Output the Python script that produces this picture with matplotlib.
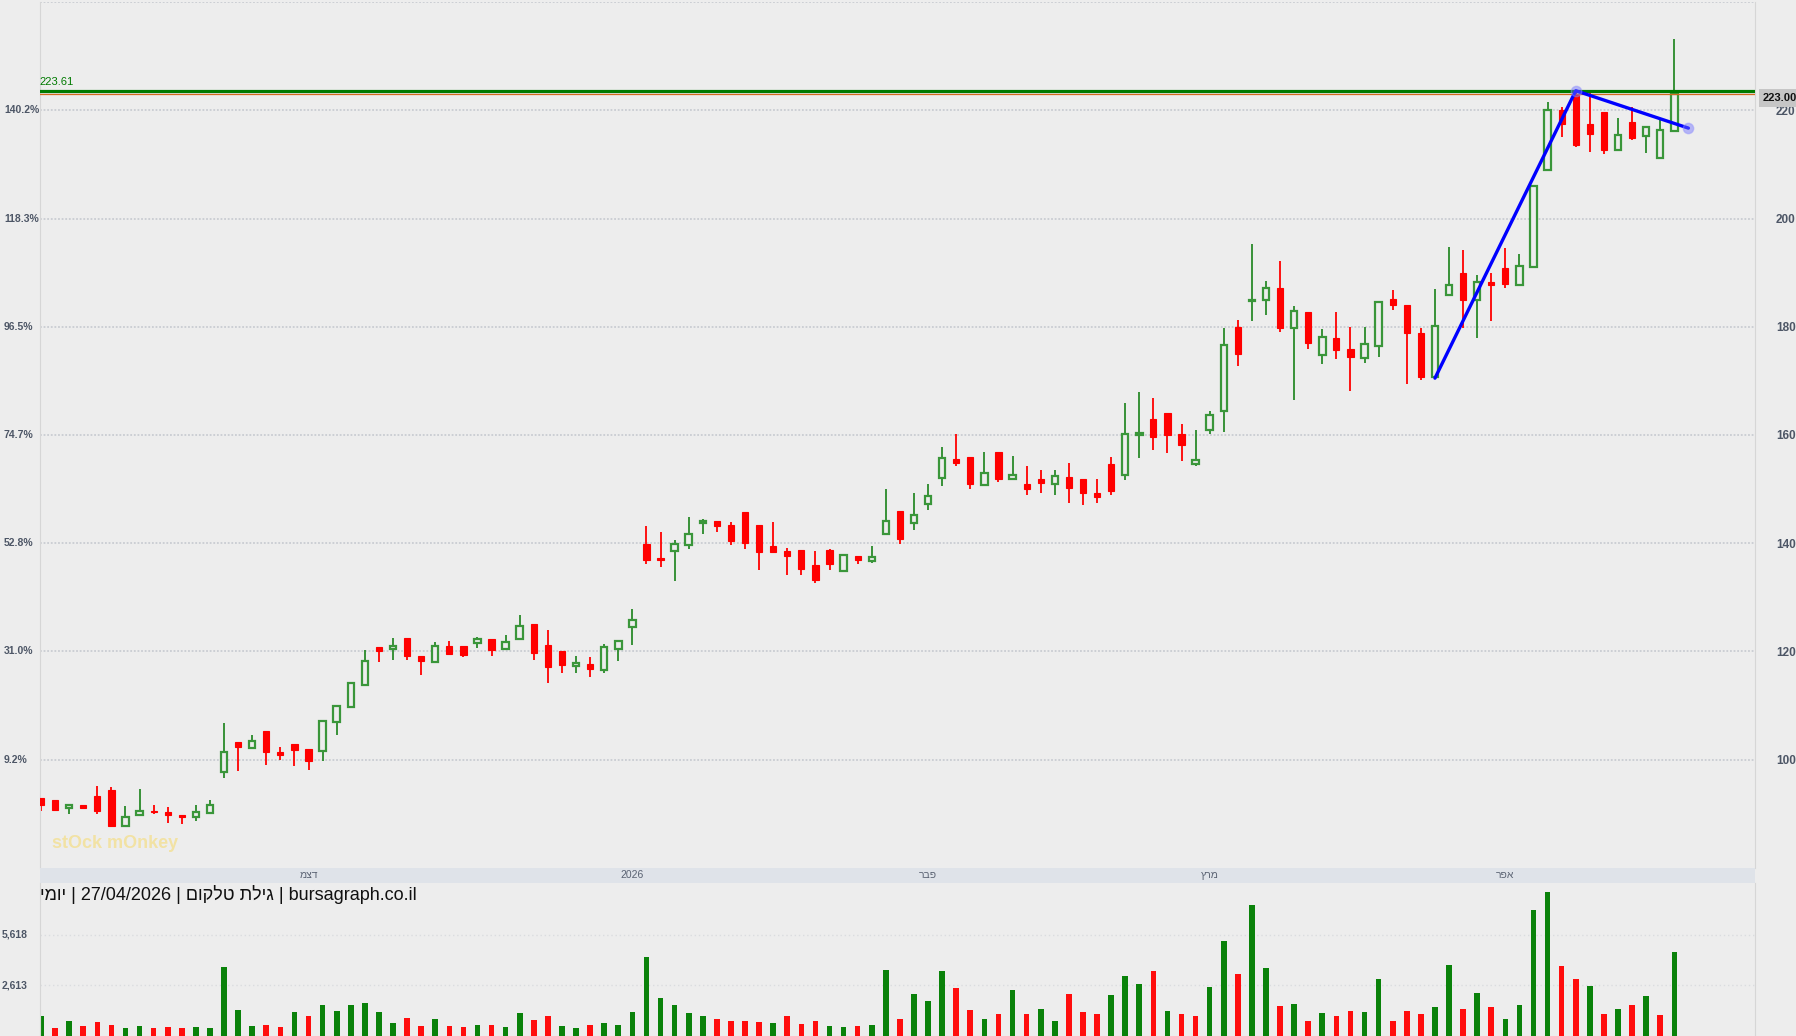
import matplotlib
matplotlib.use('Agg')
import matplotlib.pyplot as plt
import matplotlib.transforms as mtransforms
import numpy as np

# daily candles (oldest -> newest)
opens = [93.0, 92.6, 91.1, 91.7, 93.35, 94.46, 87.8, 89.8, 90.6, 90.4,
         89.8, 89.5, 90.2, 97.8, 103.3, 102.2, 105.4, 101.5, 103.0, 102.0,
         101.7, 106.9, 109.8, 113.9, 120.8, 120.45, 122.5, 119.2, 118.1, 121.0,
         121.0, 121.6, 122.3, 120.45, 122.4, 125.1, 121.25, 120.0, 117.3, 117.7,
         116.6, 120.5, 124.6, 139.9, 137.34, 138.64, 139.75, 143.75, 144.1, 143.3,
         145.85, 143.4, 139.4, 138.6, 138.8, 136.05, 138.8, 134.8, 137.7, 136.8,
         141.8, 146.0, 143.8, 147.3, 152.1, 155.6, 156.0, 150.8, 156.9, 151.9,
         151.0, 151.9, 151.0, 152.3, 151.9, 149.35, 154.7, 152.7, 159.95, 163.0,
         164.0, 160.1, 154.7, 161.0, 164.5, 179.9, 184.7, 184.9, 187.1, 179.7,
         182.8, 174.8, 178.0, 175.8, 174.3, 176.5, 185.2, 184.1, 178.9, 170.7,
         185.8, 190.0, 184.85, 188.2, 190.9, 187.8, 191.0, 208.9, 220.0, 223.0,
         217.5, 219.7, 212.6, 217.9, 215.2, 211.1, 216.1]
highs = [93.0, 92.6, 91.8, 91.7, 95.2, 94.95, 91.5, 94.6, 91.7, 91.2,
         89.8, 91.7, 92.6, 106.7, 103.3, 104.6, 105.4, 102.4, 103.0, 102.0,
         107.4, 110.0, 114.1, 120.3, 120.8, 122.5, 122.5, 119.2, 121.75, 121.9,
         121.0, 122.7, 122.3, 123.1, 126.8, 125.1, 124.0, 120.0, 119.2, 119.0,
         121.4, 121.9, 127.9, 143.1, 142.0, 140.6, 144.9, 144.5, 144.1, 143.9,
         145.85, 143.4, 144.0, 139.1, 138.8, 138.6, 138.9, 137.8, 137.7, 139.4,
         150.1, 146.0, 149.2, 151.0, 157.7, 160.1, 156.0, 156.9, 156.9, 156.2,
         154.3, 153.6, 153.6, 154.9, 151.9, 151.9, 156.0, 166.0, 168.0, 166.9,
         164.0, 162.1, 160.9, 164.45, 179.7, 181.3, 195.2, 188.5, 192.2, 183.9,
         182.8, 179.5, 182.8, 180.0, 180.0, 184.6, 186.7, 184.1, 179.7, 186.9,
         194.8, 194.1, 189.5, 189.9, 194.6, 193.35, 206.0, 221.6, 220.6, 223.61,
         223.5, 219.7, 218.5, 220.6, 216.9, 218.5, 233.1]
lows = [90.5, 90.6, 90.0, 90.9, 90.0, 87.5, 87.8, 89.8, 90.0, 88.4,
        88.2, 88.6, 90.2, 96.7, 98.0, 102.2, 99.1, 100.0, 98.9, 98.15,
        99.7, 104.5, 109.8, 113.9, 118.0, 118.4, 118.4, 115.6, 118.1, 119.3,
        118.9, 120.6, 119.1, 120.3, 122.4, 118.5, 114.1, 115.95, 115.95, 115.2,
        115.95, 118.2, 121.25, 136.1, 135.56, 133.0, 138.9, 141.8, 142.0, 139.75,
        139.0, 135.1, 138.3, 134.1, 134.1, 132.6, 135.06, 134.8, 136.1, 136.4,
        141.8, 139.9, 142.5, 146.1, 150.5, 154.2, 150.0, 150.8, 151.3, 151.9,
        149.0, 149.2, 149.0, 147.5, 147.0, 147.5, 149.0, 151.6, 155.7, 157.2,
        156.6, 155.15, 154.3, 160.2, 160.5, 172.7, 181.0, 182.1, 179.05, 166.4,
        175.9, 173.1, 174.0, 168.1, 173.3, 174.4, 183.1, 169.4, 170.1, 170.5,
        185.8, 179.7, 177.9, 181.0, 187.2, 187.8, 191.0, 208.9, 215.1, 213.25,
        212.3, 212.0, 212.6, 214.5, 212.1, 211.1, 216.1]
closes = [91.6, 90.8, 91.7, 91.0, 90.45, 87.8, 89.4, 90.6, 90.3, 89.7,
          89.5, 90.4, 91.7, 101.4, 102.3, 103.4, 101.4, 100.8, 101.85, 99.8,
          107.1, 110.0, 114.1, 118.2, 120.1, 120.95, 119.1, 118.2, 121.07, 119.6,
          119.3, 122.4, 120.3, 121.7, 124.8, 119.8, 117.06, 117.43, 117.8, 116.8,
          120.8, 121.9, 125.9, 136.85, 136.9, 139.9, 141.7, 144.2, 143.2, 140.4,
          140.0, 138.4, 138.45, 137.6, 135.2, 133.3, 136.1, 137.8, 136.85, 137.4,
          144.06, 140.7, 145.2, 148.7, 155.7, 154.8, 150.9, 152.9, 151.9, 152.7,
          150.0, 151.1, 152.4, 150.15, 149.2, 148.5, 149.6, 160.1, 160.4, 159.6,
          159.95, 158.1, 155.3, 163.65, 176.6, 174.9, 185.0, 187.1, 179.7, 182.9,
          177.0, 178.1, 175.7, 174.4, 176.8, 184.6, 184.0, 178.8, 170.7, 180.1,
          187.7, 184.9, 188.2, 187.7, 187.9, 191.2, 206.0, 220.0, 217.4, 213.55,
          215.6, 212.6, 215.4, 214.9, 216.9, 216.3, 223.0]
volumes = [750, 50, 450, 170, 390, 210, 50, 170, 50, 110,
           50, 110, 50, 3695, 1110, 170, 230, 110, 990, 750,
           1410, 1050, 1410, 1530, 990, 330, 650, 170, 590, 170,
           110, 230, 230, 110, 930, 510, 750, 170, 50, 230,
           330, 230, 990, 4295, 1830, 1410, 930, 750, 590, 470,
           470, 410, 350, 750, 270, 450, 170, 110, 170, 230,
           3515, 570, 2072, 1650, 3454, 2433, 1110, 570, 870, 2313,
           870, 1170, 450, 2072, 990, 870, 2012, 3154, 2673, 3454,
           1050, 870, 750, 2493, 5257, 3274, 7420, 3635, 1351, 1471,
           450, 930, 750, 1050, 990, 2973, 450, 1050, 870, 1291,
           3815, 1170, 2132, 1291, 570, 1410, 7120, 8201, 3755, 2973,
           2553, 870, 1170, 1410, 1952, 810, 4596]

price_ticks = [100, 120, 140, 160, 180, 200, 220, 240]
price_labels = ['100', '120', '140', '160', '180', '200', '220', '']
pct_labels = ['9.2%', '31.0%', '52.8%', '74.7%', '96.5%', '118.3%', '140.2%']
vol_ticks = [2613, 5618]
vol_labels = ['2,613', '5,618']

month_pos = [19, 42, 63, 83, 104]
month_labels = ['דצמ', '2026', 'פבר', 'מרץ', 'אפר']

resistance = 223.61
last_close = 223.00
trend_idx = [99, 109, 117]
trend_val = [170.5, 223.61, 216.7]

title_parts = ['יומי', '27/04/2026', 'גילת טלקום', 'bursagraph.co.il']


def rtl(s):
    # matplotlib draws left to right, so hebrew words go in visual order
    if any('\u0590' <= ch <= '\u05ff' for ch in s):
        return s[::-1]
    return s


plt.rcParams['font.family'] = ['Liberation Sans', 'DejaVu Sans']

BG = '#ededed'
UP = '#3a963a'
WICK_UP = '#2a8a2a'
DOWN = '#ff0000'
W, H = 1796, 1036


def rect(x0, y0, x1, y1):
    return [x0 / W, 1 - y1 / H, (x1 - x0) / W, (y1 - y0) / H]


fig = plt.figure(figsize=(W / 100, H / 100), dpi=100, facecolor=BG)
ax = fig.add_axes(rect(39.5, 2, 1755, 868))
axd = fig.add_axes(rect(39.5, 868, 1755, 883))
axv = fig.add_axes(rect(39.5, 883, 1755, 1036))

x = np.arange(len(closes))
o = np.array(opens)
c = np.array(closes)
up = c > o
xlim = (-0.107, 121.73)

# ---- price panel
ax.set_facecolor(BG)
ax.set_xlim(*xlim)
ax.set_ylim(80, 240)
for yv in price_ticks:
    ax.axhline(yv, color='#c9ccd2', lw=1.3, ls=(0, (1, 1)), zorder=0)

wick_cols = [WICK_UP if u else DOWN for u in up]
ax.vlines(x, lows, highs, colors=wick_cols, lw=1.3, zorder=2)
body = np.where(np.abs(c - o) < 0.3, 0.3, np.abs(c - o))
ax.bar(x[up], body[up], bottom=o[up], width=0.46, facecolor=BG,
       edgecolor=UP, linewidth=1.6, zorder=3)
ax.bar(x[~up], body[~up], bottom=c[~up], width=0.44, facecolor=DOWN,
       edgecolor=DOWN, linewidth=0.8, zorder=3)

ax.axhline(resistance, color='#007a00', lw=2.3, zorder=4)
ax.axhline(last_close, color='#d2691e', lw=0.9, zorder=4)
ax.text(0.0, resistance + 0.6, f'{resistance:.2f}', color='#007a00',
        fontsize=8, ha='left', va='bottom',
        transform=mtransforms.blended_transform_factory(ax.transAxes, ax.transData))

ax.plot(trend_idx, trend_val, color='#0000ff', lw=2.4, zorder=5,
        solid_capstyle='round')
ax.plot(trend_idx[1:], trend_val[1:], 'o', ms=7.5, mfc='#7070ff', mec='#9090ff',
        alpha=0.45, zorder=6)

ax.set_yticks(price_ticks)
ax.set_yticklabels(price_labels)
ax.yaxis.tick_right()
ax.tick_params(axis='y', length=0, pad=15, labelsize=8.5, labelcolor='#4d5666')
for lab in ax.get_yticklabels():
    lab.set_fontweight('bold')
ax.set_xticks([])

left_tr = mtransforms.blended_transform_factory(fig.transFigure, ax.transData)
for yv, lab in zip(price_ticks, pct_labels):
    ax.text(4 / W, yv, lab, transform=left_tr, ha='left', va='center',
            fontsize=7.5, fontweight='bold', color='#4d5666', clip_on=False)

ax.text(1.0047, last_close - 0.8, f'{last_close:.2f}', ha='left', va='center',
        fontsize=8, fontweight='bold', color='#111111',
        transform=mtransforms.blended_transform_factory(ax.transAxes, ax.transData),
        bbox=dict(boxstyle='square,pad=0.35', facecolor='#c6c6c6', edgecolor='none'),
        clip_on=False, zorder=7)

ax.text(12 / 1715.5, 0.018, 'stOck mOnkey', transform=ax.transAxes,
        fontsize=13, fontweight='bold', color='#f2e2a4', ha='left', va='bottom')

for side in ['top', 'bottom']:
    ax.spines[side].set_visible(False)
for side in ['left', 'right']:
    ax.spines[side].set_color('#d6d6d6')

# ---- date band
axd.set_facecolor('#dfe3e9')
axd.set_xlim(*xlim)
axd.set_ylim(0, 1)
for pos, lab in zip(month_pos, month_labels):
    axd.text(pos, 0.5, rtl(lab), ha='center', va='center', fontsize=7.5,
             color='#5a6272')
axd.set_xticks([])
axd.set_yticks([])
for sp in axd.spines.values():
    sp.set_visible(False)

# ---- volume panel
vmin = -452
axv.set_facecolor(BG)
axv.set_xlim(*xlim)
axv.set_ylim(vmin, 8743)
vol_up = np.concatenate([[True], c[1:] >= c[:-1]])
vol_cols = ['#0a820a' if u else '#ff0d0d' for u in vol_up]
axv.bar(x, np.array(volumes) - vmin, bottom=vmin, width=0.4, color=vol_cols,
        zorder=2)
for yv in vol_ticks:
    axv.axhline(yv, color='#dadcdf', lw=1.0, ls=(0, (1, 2)), zorder=0)
vol_tr = mtransforms.blended_transform_factory(fig.transFigure, axv.transData)
for yv, lab in zip(vol_ticks, vol_labels):
    axv.text(2 / W, yv, lab, transform=vol_tr, ha='left', va='center',
             fontsize=7.5, fontweight='bold', color='#4d5666', clip_on=False)
axv.set_xticks([])
axv.set_yticks([])
for side in ['top', 'bottom']:
    axv.spines[side].set_visible(False)
for side in ['left', 'right']:
    axv.spines[side].set_color('#d6d6d6')

title = ' | '.join(rtl(p) for p in title_parts)
axv.text(0.0, 0.985, title, transform=axv.transAxes, ha='left', va='top',
         fontsize=13, color='#111111',
         family=['Liberation Sans Narrow', 'Liberation Sans', 'DejaVu Sans'])

fig.savefig('out.png', dpi=100, facecolor=BG)
